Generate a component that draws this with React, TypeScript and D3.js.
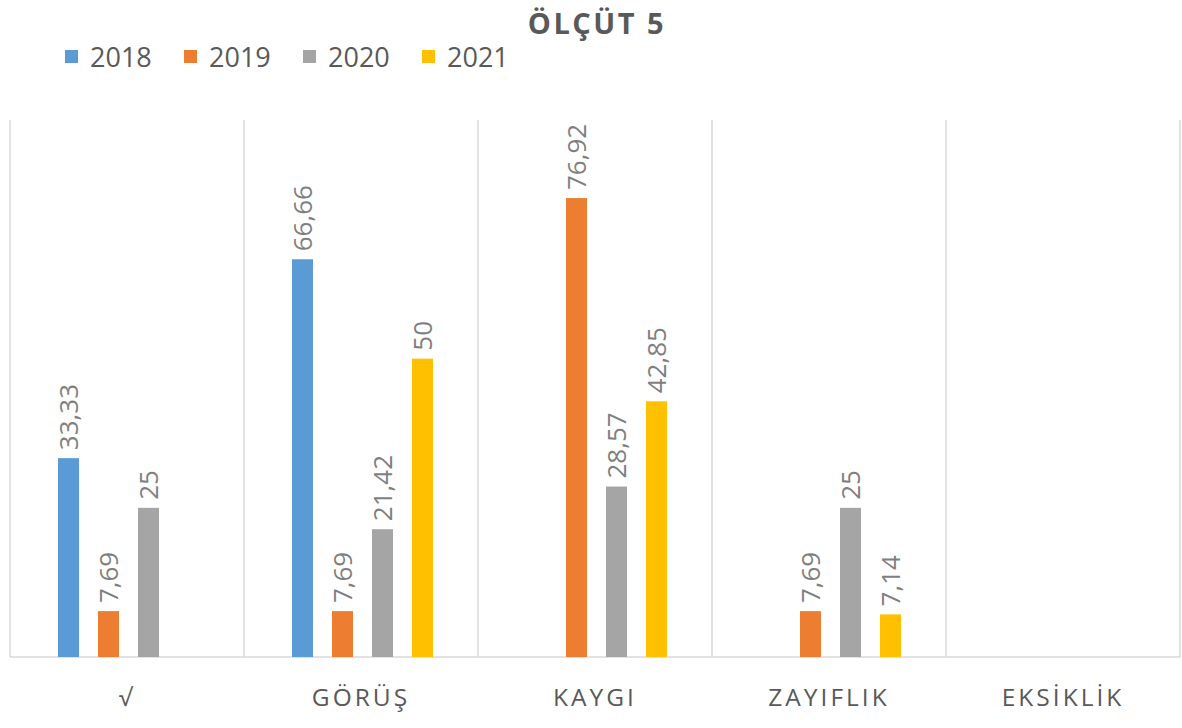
import React from "react";
import * as d3 from "d3";

const categories = ["√", "GÖRÜŞ", "KAYGI", "ZAYIFLIK", "EKSİKLİK"];
const years = ["2018", "2019", "2020", "2021"];
const values2018: (number | null)[] = [33.33, 66.66, null, null, null];
const values2019: (number | null)[] = [7.69, 7.69, 76.92, 7.69, null];
const values2020: (number | null)[] = [25, 21.42, 28.57, 25, null];
const values2021: (number | null)[] = [null, 50, 42.85, 7.14, null];
const labels2018 = ["33,33", "66,66", "", "", ""];
const labels2019 = ["7,69", "7,69", "76,92", "7,69", ""];
const labels2020 = ["25", "21,42", "28,57", "25", ""];
const labels2021 = ["", "50", "42,85", "7,14", ""];
const colors = ["#5B9BD5", "#ED7D31", "#A5A5A5", "#FFC000"];
const title = "ÖLÇÜT 5";

const series = [values2018, values2019, values2020, values2021];
const seriesLabels = [labels2018, labels2019, labels2020, labels2021];

export default function App() {
  const W = 1182, H = 728;
  const left = 10, right = 1180, top = 120, bottom = 657;
  const font = "'Open Sans', sans-serif";

  const x0 = d3.scaleBand<string>().domain(categories).range([left, right]).padding(0);
  const x1 = d3
    .scaleBand<string>()
    .domain(years)
    .range([38.5, 198.5])
    .paddingInner(0.475)
    .paddingOuter(0.2375);
  const y = d3.scaleLinear().domain([0, 90]).range([bottom, top]);

  const boundaries = categories.map((c) => x0(c)!).concat([right]);

  return (
    <svg width={W} height={H} style={{ position: "absolute", left: 0, top: 0, background: "#fff" }}>
      <rect x={0} y={0} width={W} height={H} fill="#fff" />
      <text
        x={597}
        y={34}
        textAnchor="middle"
        fontFamily={font}
        fontWeight="bold"
        fontSize={29}
        letterSpacing={2.5}
        fill="#595959"
      >
        {title}
      </text>
      {years.map((yr, i) => (
        <g key={yr} transform={`translate(${65 + i * 119},0)`}>
          <rect x={0} y={50} width={13} height={13} fill={colors[i]} />
          <text x={25} y={67} fontFamily={font} fontSize={27} fill="#595959">
            {yr}
          </text>
        </g>
      ))}
      {boundaries.map((bx, i) => (
        <line key={i} x1={bx} x2={bx} y1={top} y2={bottom} stroke="#D9D9D9" strokeWidth={1.5} />
      ))}
      <line x1={left} x2={right} y1={bottom} y2={bottom} stroke="#D9D9D9" strokeWidth={1.5} />
      {categories.map((c, ci) => (
        <g key={c}>
          {years.map((yr, si) => {
            const v = series[si][ci];
            if (v === null) return null;
            const bx = x0(c)! + x1(yr)!;
            const bw = x1.bandwidth();
            const cx = bx + bw / 2;
            const ty = y(v) - 8;
            return (
              <g key={yr}>
                <rect x={bx} y={y(v)} width={bw} height={bottom - y(v)} fill={colors[si]} />
                <text
                  transform={`translate(${cx},${ty}) rotate(-90)`}
                  dy="0.36em"
                  textAnchor="start"
                  fontFamily={font}
                  fontSize={26}
                  fill="#7F7F7F"
                >
                  {seriesLabels[si][ci]}
                </text>
              </g>
            );
          })}
          <text
            x={x0(c)! + x0.bandwidth() / 2}
            y={706}
            textAnchor="middle"
            fontFamily={font}
            fontSize={24.5}
            letterSpacing={3}
            fill="#595959"
          >
            {c}
          </text>
        </g>
      ))}
    </svg>
  );
}
